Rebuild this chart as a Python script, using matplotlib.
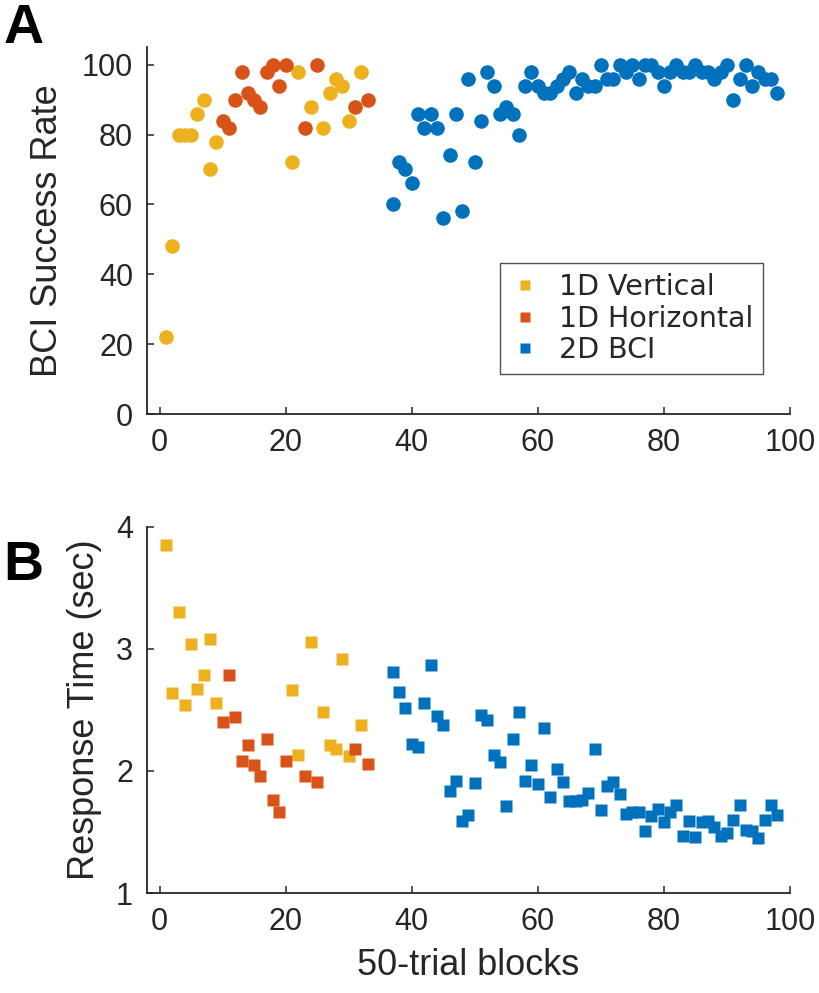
import numpy as np
import matplotlib
matplotlib.use("Agg")
import matplotlib.pyplot as plt
from matplotlib.lines import Line2D

# ---- data ----
vert_blocks = [1, 2, 3, 4, 5, 6, 7, 8, 9, 21, 22, 24, 26, 27, 28, 29, 30, 32]
vert_rate = [22, 48, 80, 80, 80, 86, 90, 70, 78, 72, 98, 88, 82, 92, 96, 94, 84, 98]
vert_rt = [3.85, 2.64, 3.30, 2.54, 3.04, 2.67, 2.79, 3.08, 2.56, 2.66, 2.13, 3.06,
           2.48, 2.21, 2.18, 2.92, 2.12, 2.38]

horz_blocks = [10, 11, 12, 13, 14, 15, 16, 17, 18, 19, 20, 23, 25, 31, 33]
horz_rate = [84, 82, 90, 98, 92, 90, 88, 98, 100, 94, 100, 82, 100, 88, 90]
horz_rt = [2.40, 2.79, 2.44, 2.08, 2.21, 2.05, 1.96, 2.26, 1.76, 1.66, 2.08, 1.96,
           1.91, 2.18, 2.06]

bci_blocks = list(range(37, 99))
bci_rate = [60, 72, 70, 66, 86, 82, 86, 82, 56, 74, 86, 58, 96, 72, 84, 98, 94, 86,
            88, 86, 80, 94, 98, 94, 92, 92, 94, 96, 98, 92, 96, 94, 94, 100, 96, 96,
            100, 98, 100, 96, 100, 100, 98, 94, 98, 100, 98, 98, 100, 98, 98, 96, 98,
            100, 90, 96, 100, 94, 98, 96, 96, 92]
bci_rt = [2.81, 2.65, 2.52, 2.22, 2.20, 2.56, 2.87, 2.45, 2.38, 1.84, 1.92, 1.59,
          1.64, 1.90, 2.46, 2.42, 2.13, 2.07, 1.71, 2.26, 2.48, 1.92, 2.05, 1.89,
          2.35, 1.79, 2.02, 1.91, 1.75, 1.75, 1.76, 1.82, 2.18, 1.68, 1.88, 1.91,
          1.81, 1.65, 1.66, 1.66, 1.51, 1.63, 1.69, 1.58, 1.66, 1.72, 1.47, 1.59,
          1.46, 1.58, 1.59, 1.54, 1.47, 1.49, 1.60, 1.72, 1.52, 1.51, 1.45, 1.60,
          1.72, 1.64]

labels = ["1D Vertical", "1D Horizontal", "2D BCI"]
colors = ["#EDB120", "#D95319", "#0072BD"]
axcol = "#262626"

fig = plt.figure(figsize=(8.19, 9.93), dpi=100)
ax1 = fig.add_axes([0.1795, 0.583, 0.785, 0.3695])
ax2 = fig.add_axes([0.1795, 0.1007, 0.785, 0.3686])

groups = [(vert_blocks, vert_rate, vert_rt),
          (horz_blocks, horz_rate, horz_rt),
          (bci_blocks, bci_rate, bci_rt)]

for (xb, rate, rt), c in zip(groups, colors):
    ax1.plot(xb, rate, 'o', ms=10.5, color=c, mec='none', ls='none')
    ax2.plot(xb, rt, 's', ms=8, color=c, mec='none', ls='none')

for ax in (ax1, ax2):
    ax.set_xlim(-2, 100)
    ax.set_xticks([0, 20, 40, 60, 80, 100])
    ax.spines['top'].set_visible(False)
    ax.spines['right'].set_visible(False)
    for s in ('left', 'bottom'):
        ax.spines[s].set_color(axcol)
        ax.spines[s].set_linewidth(1.3)
    ax.tick_params(direction='in', length=5, width=1.1, colors=axcol,
                   labelsize=22, pad=10)
    for t in ax.get_xticklabels() + ax.get_yticklabels():
        t.set_family('Liberation Sans')

ax1.set_ylim(0, 105)
ax1.set_yticks([0, 20, 40, 60, 80, 100])
ax2.set_ylim(1, 4)
ax2.set_yticks([1, 2, 3, 4])

ax1.set_ylabel("BCI Success Rate", fontsize=26, family='Liberation Sans',
               color=axcol, labelpad=12)
ax2.set_ylabel("Response Time (sec)", fontsize=26, family='Liberation Sans',
               color=axcol, labelpad=10)
ax2.set_xlabel("50-trial blocks", fontsize=26, family='Liberation Sans',
               color=axcol, labelpad=8)

handles = [Line2D([], [], marker='s', ls='none', ms=7, color=c, mec='none')
           for c in colors]
leg = ax1.legend(handles, labels, loc='upper right',
                 bbox_to_anchor=(0.958, 0.411), borderaxespad=0,
                 fontsize=20.5, frameon=True, fancybox=False,
                 labelspacing=0.12, handletextpad=0.7, handlelength=1.0,
                 borderpad=0.35)
leg.get_frame().set_edgecolor(axcol)
leg.get_frame().set_linewidth(1.0)
for t in leg.get_texts():
    t.set_color(axcol)

fig.text(0.004, 0.997, "A", fontsize=40, fontweight='bold', va='top', ha='left',
         family='Liberation Sans')
fig.text(0.004, 0.456, "B", fontsize=40, fontweight='bold', va='top', ha='left',
         family='Liberation Sans')

fig.savefig("out.png", dpi=100)
